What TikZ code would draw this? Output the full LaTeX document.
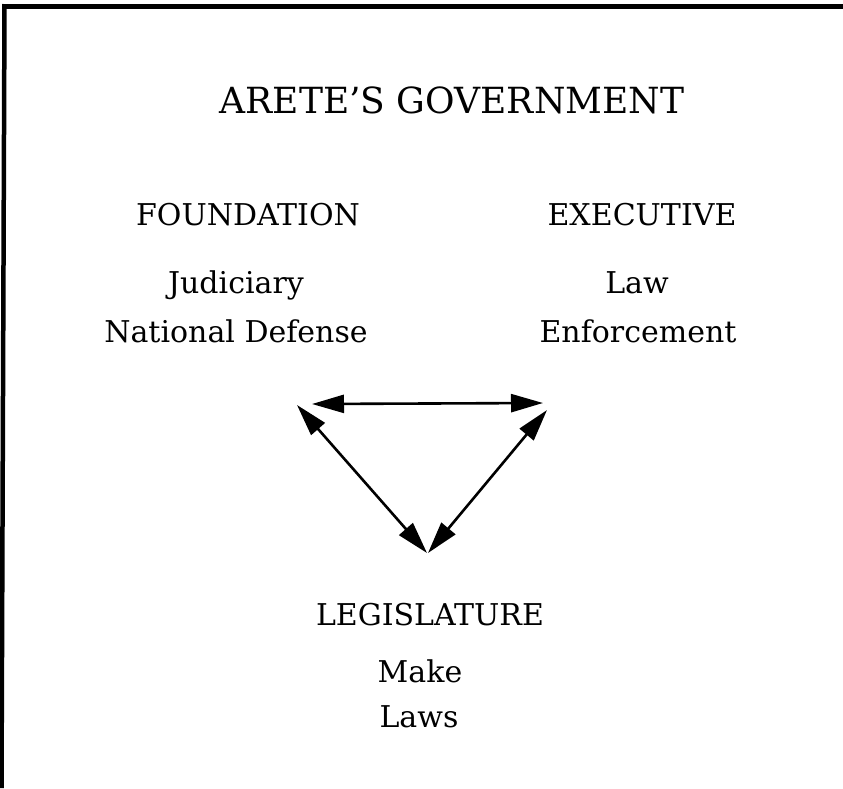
\documentclass[tikz,border=0pt]{standalone}
\usepackage{fontspec}
\setmainfont{DejaVu Serif}
\usetikzlibrary{arrows.meta}
\begin{document}
\begin{tikzpicture}[x=1pt,y=-1pt,
  title/.style={anchor=base,inner sep=0pt,font=\fontsize{36}{44}\selectfont},
  head/.style={anchor=base,inner sep=0pt,font=\fontsize{30}{36}\selectfont},
  item/.style={anchor=base,inner sep=0pt,font=\fontsize{30}{36}\selectfont},
  link/.style={line width=2.6pt,{Triangle[length=32pt,width=18pt]}-{Triangle[length=32pt,width=18pt]}},
  frame/.style={line width=5pt}]
\useasboundingbox (0,0) rectangle (843,788);
% frame along the top and left edges
\coordinate (tr) at (843,6.5);
\coordinate (tl) at (2,6.5);
\coordinate (lt) at (4.5,4);
\coordinate (bl) at (1.5,788);
\draw[frame] (tr) -- (tl);
\draw[frame,line width=4.5pt] (lt) -- (bl);
% heading
\node[title] (title) at (452,113) {ARETE’S GOVERNMENT};
% branches
\node[head] (found) at (248,225) {FOUNDATION};
\node[item] (jud) at (236,293) {Judiciary};
\node[item] (def) at (236,342) {National Defense};
\node[head] (exec) at (642,225) {EXECUTIVE};
\node[item] (law) at (637,293) {Law};
\node[item] (enf) at (638,342) {Enforcement};
\node[head] (legis) at (430,625) {LEGISLATURE};
\node[item] (make) at (420,682) {Make};
\node[item] (laws) at (419,727) {Laws};
% arrow ends of the triangle
\coordinate (fa) at (312,404);
\coordinate (ea) at (543,403);
\coordinate (fb) at (297,405);
\coordinate (eb) at (547,410);
\coordinate (la) at (427,553);
\coordinate (lb) at (428,553);
\draw[link] (fa) -- (ea);
\draw[link] (fb) -- (la);
\draw[link] (eb) -- (lb);
\end{tikzpicture}
\end{document}
